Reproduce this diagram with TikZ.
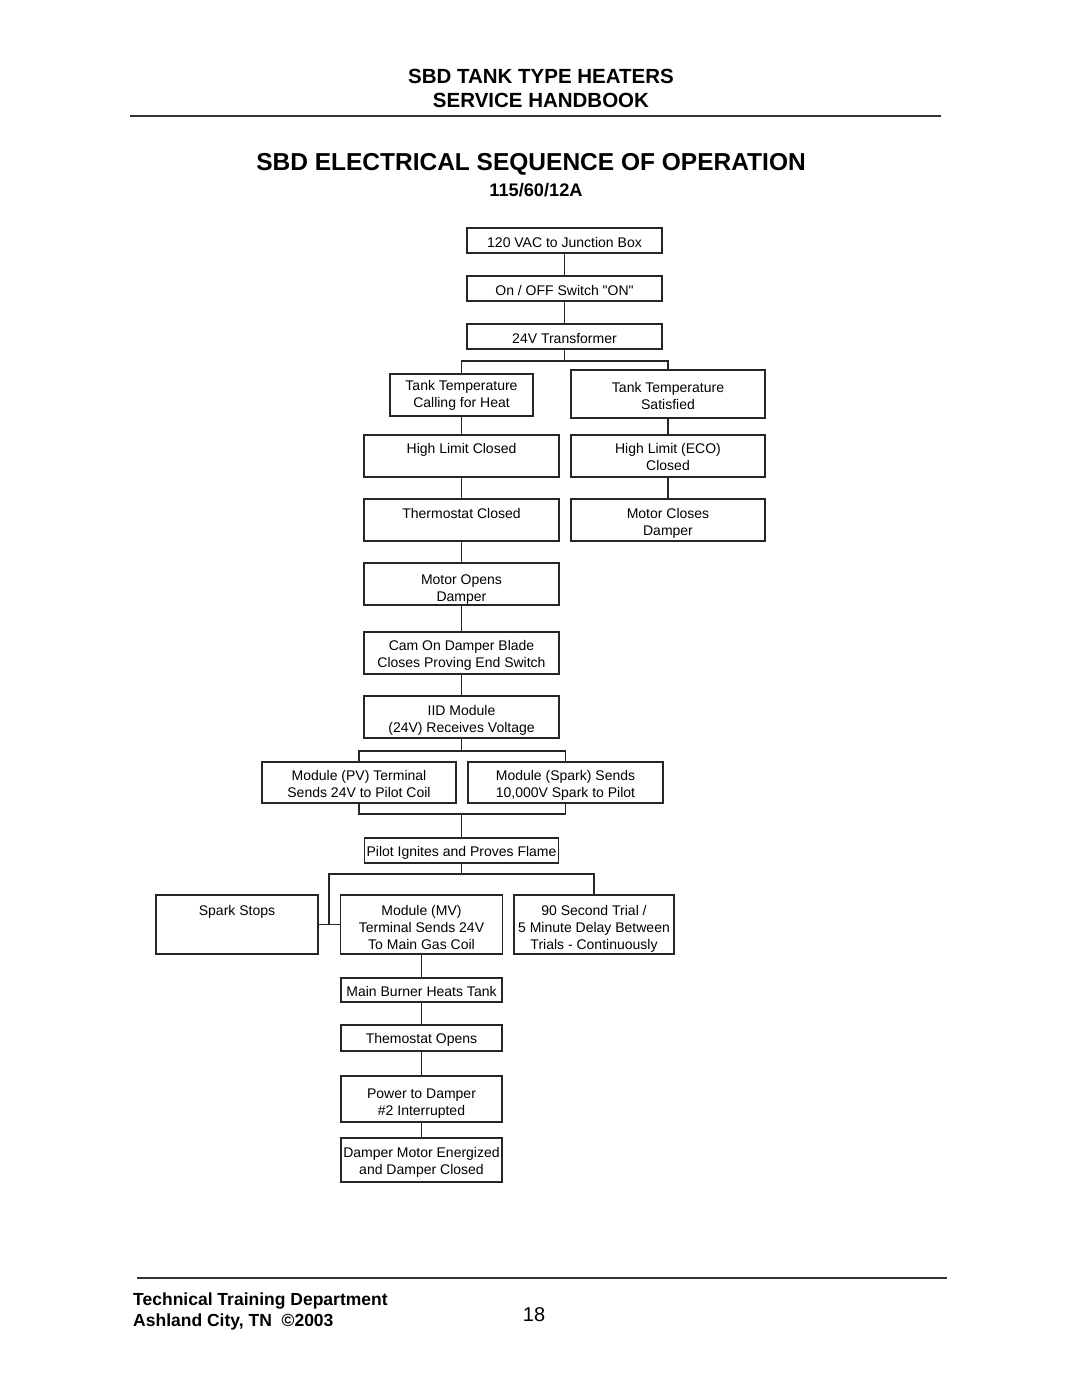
\documentclass[tikz,border=0pt]{standalone}
\usepackage{fontspec}
\setmainfont{Liberation Sans}
\newfontfamily\rawfont{Liberation Sans}
\newcommand\fl[1][16]{\rule{0pt}{#1pt}}
\begin{document}
\begin{tikzpicture}[x=1pt,y=-1pt,
  boxbase/.style={draw=black!85, line width=1.1pt, inner sep=0pt, align=center,
    font=\fontsize{14}{17}\selectfont,
    execute at end node={\rule[-1pt]{0pt}{1pt}}},
  box/.style={boxbase},
  sbox/.style={boxbase, execute at begin node={\rule{0pt}{14pt}}},
  link/.style={draw=black!85, line width=1.1pt},
  head/.style={anchor=base, inner sep=0pt, font=\fontsize{20.5}{24}\selectfont\bfseries},
  foot/.style={anchor=base west, inner sep=0pt, font=\fontsize{17.5}{20}\selectfont\bfseries},
  rule/.style={draw=black!80, line width=1.6pt}]
\useasboundingbox[fill=white] (0,0) rectangle (1080,1393);

% header
\node[head] (h1) at (541,83.5) {SBD TANK TYPE HEATERS};
\node[head] (h2) at (541,107.5) {SERVICE HANDBOOK};
\coordinate (r1a) at (130,116);
\coordinate (r1b) at (941,116);
\draw[rule] (r1a) -- (r1b);
\node[head, font=\fontsize{24.5}{28}\selectfont\bfseries] (t1) at (531,170.5) {SBD ELECTRICAL SEQUENCE OF OPERATION};
\node[head, font=\fontsize{18.2}{22}\selectfont\bfseries] (t2) at (536,196.5) {115/60/12A};

% boxes
\node[sbox, minimum width=195, minimum height=25] (b1) at (564.5,240.5) {120 VAC to Junction Box};
\node[sbox, minimum width=195, minimum height=25] (b2) at (564.5,288.5) {On / OFF Switch {\rawfont"}ON{\rawfont"}};
\node[sbox, minimum width=195, minimum height=25] (b3) at (564.5,336.5) {24V Transformer};
\node[box, minimum width=143, minimum height=42] (calling) at (461.5,395) {Tank Temperature\\Calling for Heat};
\node[box, minimum width=194, minimum height=48] (satisfied) at (668,394) {\fl[14.2]Tank Temperature\\Satisfied};
\node[box, minimum width=195, minimum height=42] (highlimit) at (461.5,456) {\fl[12.2]High Limit Closed\\\mbox{}};
\node[box, minimum width=194, minimum height=42] (eco) at (668,456) {\fl[12.2]High Limit (ECO)\\Closed};
\node[box, minimum width=195, minimum height=42] (thermo) at (461.5,520) {\fl[14.2]Thermostat Closed\\\mbox{}};
\node[box, minimum width=194, minimum height=42] (mclose) at (668,520) {\fl[16.2]Motor Closes\\Damper};
\node[box, minimum width=195, minimum height=42] (mopen) at (461.5,584) {\fl[20.2]Motor Opens\\Damper};
\node[box, minimum width=195, minimum height=42] (cam) at (461.5,653) {\fl[15.2]Cam On Damper Blade\\Closes Proving End Switch};
\node[box, minimum width=195, minimum height=42] (iid) at (461.5,717) {\fl[16.2]IID Module\\(24V) Receives Voltage};
\node[box, minimum width=194, minimum height=41] (pv) at (359,782.5) {\fl[14.2]Module (PV) Terminal\\Sends 24V to Pilot Coil};
\node[box, minimum width=195, minimum height=41] (spark) at (565.5,782.5) {\fl[16.2]Module (Spark) Sends\\10,000V Spark to Pilot};
\node[sbox, minimum width=194, minimum height=25] (pilot) at (461.5,850.5) {Pilot Ignites and Proves Flame};
\node[box, minimum width=162, minimum height=59] (sstops) at (237,924.5) {\fl[16.2]Spark Stops\\\mbox{}\\\mbox{}};
\node[box, minimum width=162, minimum height=59] (mv) at (421.5,924.5) {\fl[16.2]Module (MV)\\Terminal Sends 24V\\To Main Gas Coil};
\node[box, minimum width=160, minimum height=59] (ninety) at (594,924.5) {\fl[18.2]90 Second Trial /\\5 Minute Delay Between\\Trials - Continuously};
\node[sbox, minimum width=161, minimum height=24] (burner) at (421.5,990) {Main Burner Heats Tank};
\node[sbox, minimum width=161, minimum height=26] (topens) at (421.5,1038) {Themostat Opens};
\node[box, minimum width=161, minimum height=46] (power) at (421.5,1099) {\fl[18.2]Power to Damper\\\#2 Interrupted};
\node[box, minimum width=161, minimum height=44] (dmotor) at (421.5,1160) {\fl[14.2]Damper Motor Energized\\and Damper Closed};

% connectors
\draw[link] (b1) -- (b2);
\draw[link] (b2) -- (b3);
\coordinate (j1) at (564.5,361);
\draw[link] (b3.south) -- (j1);
\draw[link] (calling.north) |- (j1) -| (satisfied.north);
\draw[link] (calling) -- (highlimit);
\draw[link] (highlimit) -- (thermo);
\draw[link] (thermo) -- (mopen);
\draw[link] (mopen) -- (cam);
\draw[link] (cam) -- (iid);
\draw[link] (satisfied) -- (eco);
\draw[link] (eco) -- (mclose);
\coordinate (j2) at (461.5,751);
\draw[link] (iid.south) -- (j2);
\draw[link] (pv.north) |- (j2) -| (spark.north);
\coordinate (j3) at (461.5,814);
\draw[link] (pv.south) |- (j3) -| (spark.south);
\draw[link] (j3) -- (pilot.north);
\coordinate (j4) at (461.5,874);
\coordinate (j5) at (329,924.5);
\draw[link] (pilot.south) -- (j4);
\draw[link] (ninety.north) |- (j4) -| (j5);
\draw[link] (sstops.east) -- (mv.west);
\draw[link] (mv) -- (burner);
\draw[link] (burner) -- (topens);
\draw[link] (topens) -- (power);
\draw[link] (power) -- (dmotor);

% footer
\coordinate (r2a) at (137,1278);
\coordinate (r2b) at (947,1278);
\draw[rule] (r2a) -- (r2b);
\node[foot] (f1) at (133,1305) {Technical Training Department};
\node[foot] (f2) at (133,1326.5) {Ashland City, TN\ \ ©2003};
\node[anchor=base, inner sep=0pt, font=\fontsize{20}{24}\selectfont] (pg) at (534,1321) {18};
\end{tikzpicture}
\end{document}
